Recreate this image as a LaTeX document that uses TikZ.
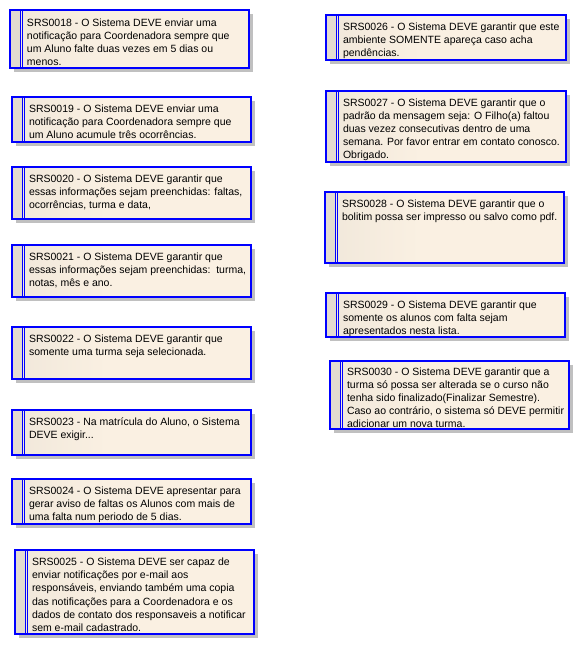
\documentclass[tikz,border=0pt]{standalone}
\usepackage{fontspec}
\setmainfont{Liberation Sans}
\usetikzlibrary{shadows}
\definecolor{stripc}{RGB}{227,219,208}
\definecolor{lightc}{RGB}{250,240,226}
\definecolor{darkc}{RGB}{229,221,209}
\definecolor{shadowc}{RGB}{192,192,192}
\definecolor{bordc}{RGB}{0,0,255}
\pgfdeclarehorizontalshading{reqshade}{100bp}{color(0bp)=(darkc); color(45bp)=(lightc); color(100bp)=(lightc)}
\tikzset{
  reqbox/.style={rectangle, draw=bordc, line width=1.1pt, inner sep=0pt, outer sep=0pt,
    anchor=north west, shading=reqshade,
    drop shadow={shadow xshift=4pt, shadow yshift=-4pt, fill=shadowc, opacity=1},
    path picture={
      \fill[stripc] (path picture bounding box.north west) rectangle ([xshift=10pt]path picture bounding box.south west);
      \draw[bordc, line width=0.9pt] ([xshift=10pt]path picture bounding box.north west) -- ([xshift=10pt]path picture bounding box.south west);
      \draw[bordc, line width=0.9pt] ([xshift=12.6pt]path picture bounding box.north west) -- ([xshift=12.6pt]path picture bounding box.south west);
    }},
  reqtext/.style={anchor=north west, inner sep=0pt, outer sep=0pt, align=left,
    font=\fontsize{10.5}{13.2}\selectfont, text=black}
}
\newcommand{\req}[7][15.5]{%
  \pgfmathsetmacro{\rw}{#5-#3}%
  \pgfmathsetmacro{\rh}{#6-#4}%
  \node[reqbox, minimum width=\rw pt, minimum height=\rh pt] (#2) at (#3,#4) {};
  \node[reqtext] (#2t) at (#3+17,#4+#1-10) {\rule{0pt}{10pt}#7};
}
\begin{document}
\begin{tikzpicture}[x=1pt,y=-1pt]
\useasboundingbox (0,0) rectangle (580,645);
\req[16]{r18}{10}{10}{249}{68}{SRS0018 - O Sistema DEVE enviar uma\\notificação para Coordenadora sempre que\\um Aluno falte duas vezes em 5 dias ou\\menos.}
\req{r19}{12}{97}{251}{142}{SRS0019 - O Sistema DEVE enviar uma\\notificação para Coordenadora sempre que\\um Aluno acumule três ocorrências.}
\req{r20}{12}{167}{251}{219}{SRS0020 - O Sistema DEVE garantir que\\essas informações sejam preenchidas: faltas,\\ocorrências, turma e data,}
\req{r21}{12}{245}{251}{297}{SRS0021 - O Sistema DEVE garantir que\\essas informações sejam preenchidas:\ \ turma,\\notas, mês e ano.}
\req{r22}{12}{327}{251}{379}{SRS0022 - O Sistema DEVE garantir que\\somente uma turma seja selecionada.}
\req{r23}{12}{410}{251}{455}{SRS0023 - Na matrícula do Aluno, o Sistema\\DEVE exigir...}
\req{r24}{12}{479}{251}{524}{SRS0024 - O Sistema DEVE apresentar para\\gerar aviso de faltas os Alunos com mais de\\uma falta num periodo de 5 dias.}
\req{r25}{15}{550}{254}{634}{SRS0025 - O Sistema DEVE ser capaz de\\enviar notificações por e-mail aos\\responsáveis, enviando também uma copia\\das notificações para a Coordenadora e os\\dados de contato dos responsaveis a notificar\\sem e-mail cadastrado.}
\req[15]{r26}{326}{15}{566}{60}{SRS0026 - O Sistema DEVE garantir que este\\ambiente SOMENTE apareça caso acha\\pendências.}
\req[15]{r27}{326}{91}{566}{162}{SRS0027 - O Sistema DEVE garantir que o\\padrão da mensagem seja: O Filho(a) faltou\\duas vezez consecutivas dentro de uma\\semana. Por favor entrar em contato conosco.\\Obrigado.}
\req{r28}{325}{192}{564}{263}{SRS0028 - O Sistema DEVE garantir que o\\bolitim possa ser impresso ou salvo como pdf.}
\req[15]{r29}{326}{293}{565}{337}{SRS0029 - O Sistema DEVE garantir que\\somente os alunos com falta sejam\\apresentados nesta lista.}
\req[14]{r30}{330}{361}{569}{429}{SRS0030 - O Sistema DEVE garantir que a\\turma só possa ser alterada se o curso não\\tenha sido finalizado(Finalizar Semestre).\\Caso ao contrário, o sistema só DEVE permitir\\adicionar um nova turma.}
\end{tikzpicture}
\end{document}
